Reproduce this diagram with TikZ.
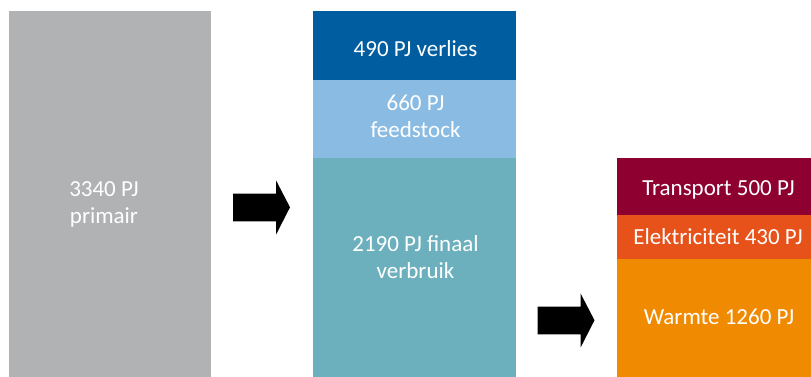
\documentclass[tikz,border=0pt]{standalone}
\usepackage{fontspec}
\setmainfont{Carlito}
\definecolor{cgray}{HTML}{B1B2B4}
\definecolor{cdblue}{HTML}{005EA0}
\definecolor{clblue}{HTML}{8ABCE3}
\definecolor{cteal}{HTML}{6DB0BD}
\definecolor{cmaroon}{HTML}{8D0030}
\definecolor{cred}{HTML}{E65219}
\definecolor{corange}{HTML}{F08A00}
\begin{document}
\begin{tikzpicture}[x=1pt,y=-1pt,
  block/.style={fill=#1, draw=none, inner sep=0pt, outer sep=0pt, anchor=north west},
  lbl/.style={text=white, align=center, font=\fontsize{23}{27}\selectfont, inner sep=0pt, anchor=base},
  blockarrow/.style={fill=black}]
\useasboundingbox (0,0) rectangle (811,377);
% blocks
\node[block=cgray, minimum width=202pt, minimum height=366pt] (prim) at (9,11) {};
\node[block=cdblue, minimum width=203pt, minimum height=69pt] (verl) at (313,11) {};
\node[block=clblue, minimum width=203pt, minimum height=78pt] (feed) at (313,80) {};
\node[block=cteal, minimum width=203pt, minimum height=219pt] (fin) at (313,158) {};
\node[block=cmaroon, minimum width=194pt, minimum height=57pt] (trans) at (617,158) {};
\node[block=cred, minimum width=194pt, minimum height=44pt] (elek) at (617,215) {};
\node[block=corange, minimum width=194pt, minimum height=118pt] (warm) at (617,259) {};
% labels (base anchor = baseline of last line)
\node[lbl] (tprim) at (104,223.5) {3340 PJ\\primair};
\node[lbl] (tverl) at (415.5,57) {490 PJ verlies};
\node[lbl] (tfeed) at (415.5,138) {660 PJ\\feedstock};
\node[lbl] (tfin) at (415.5,278) {2190 PJ finaal\\verbruik};
\node[lbl] (ttrans) at (718.5,195.5) {Transport 500 PJ};
\node[lbl] (telek) at (718,244.5) {Elektriciteit 430 PJ};
\node[lbl] (twarm) at (719,324.5) {Warmte 1260 PJ};
% arrows
\fill[blockarrow] (233,193.6) -- (276,193.6) -- (276,180.3) -- (290,207.3) -- (276,234.7) -- (276,221.3) -- (233,221.3) -- cycle;
\begin{scope}[shift={(304.5,113)}]
\fill[blockarrow] (233,193.6) -- (276,193.6) -- (276,180.3) -- (290,207.3) -- (276,234.7) -- (276,221.3) -- (233,221.3) -- cycle;
\end{scope}
\end{tikzpicture}
\end{document}
